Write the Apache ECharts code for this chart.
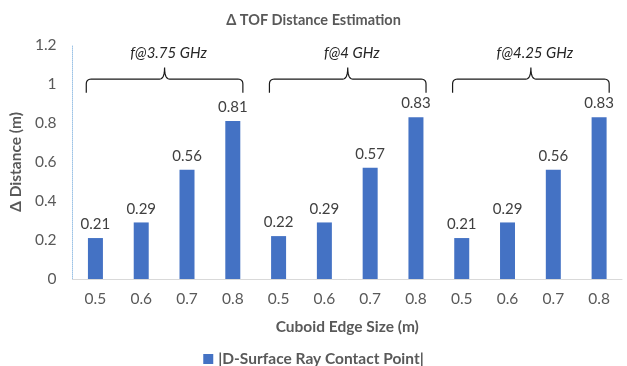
<!DOCTYPE html>
<html>
<head>
<meta charset="utf-8">
<script src="https://cdn.jsdelivr.net/npm/echarts@6/dist/echarts.min.js"></script>
<style>
  html, body { margin: 0; padding: 0; background: #fff; }
  #chart { width: 627px; height: 366px; }
</style>
</head>
<body>
<div id="chart"></div>
<script>
// Cuboid edge sizes, repeated for each carrier frequency
const categories = ['0.5', '0.6', '0.7', '0.8', '0.5', '0.6', '0.7', '0.8', '0.5', '0.6', '0.7', '0.8'];
// Distance error per frequency group (m)
const valuesF375 = [0.21, 0.29, 0.56, 0.81];
const valuesF400 = [0.22, 0.29, 0.57, 0.83];
const valuesF425 = [0.21, 0.29, 0.56, 0.83];
const seriesValues = valuesF375.concat(valuesF400, valuesF425);
// Frequency group labels and the category ranges they span
const groupLabels = ['f@3.75 GHz', 'f@4 GHz', 'f@4.25 GHz'];
const groupRanges = [[0, 3], [4, 7], [8, 11]];
const yTicks = [0, 0.2, 0.4, 0.6, 0.8, 1, 1.2];

const FONT = 'Lato, "Open Sans", sans-serif';
const GREY = '#595959';

const chart = echarts.init(document.getElementById('chart'), null, { renderer: 'canvas' });

chart.setOption({
  animation: false,
  title: {
    text: 'Δ TOF Distance Estimation',
    left: 'center',
    top: 8,
    textStyle: { fontFamily: FONT, fontSize: 14.5, fontWeight: 'bold', color: GREY }
  },
  grid: { left: 71, right: 5, top: 45, bottom: 87 },
  legend: {
    top: 346,
    left: 'center',
    itemWidth: 10,
    itemHeight: 10,
    itemGap: 6,
    icon: 'rect',
    textStyle: { fontFamily: FONT, fontSize: 15.5, fontWeight: 'bold', color: GREY }
  },
  xAxis: {
    type: 'category',
    data: categories,
    name: 'Cuboid Edge Size (m)',
    nameLocation: 'middle',
    nameGap: 40,
    nameTextStyle: { fontFamily: FONT, fontSize: 15.5, fontWeight: 'bold', color: GREY },
    axisLine: { lineStyle: { color: '#d9d9d9', width: 1 } },
    axisTick: { show: false },
    axisLabel: { fontFamily: FONT, fontSize: 15.5, color: GREY, margin: 12 }
  },
  yAxis: {
    type: 'value',
    min: 0,
    max: 1.2,
    interval: 0.2,
    name: 'Δ Distance (m)',
    nameLocation: 'middle',
    nameGap: 44,
    nameTextStyle: { fontFamily: FONT, fontSize: 15.5, fontWeight: 'bold', color: GREY },
    axisLine: { show: true, lineStyle: { color: '#9dc3e6', width: 1, type: 'dotted' } },
    axisTick: { show: false },
    splitLine: { show: false },
    axisLabel: {
      fontFamily: FONT, fontSize: 15.5, color: GREY, margin: 16,
      formatter: v => {
        const t = yTicks.find(t => Math.abs(t - v) < 1e-9);
        return String(t !== undefined ? t : v);
      }
    }
  },
  series: [{
    name: '|D-Surface Ray Contact Point|',
    type: 'bar',
    data: seriesValues,
    barWidth: 15,
    itemStyle: { color: '#4472C4' },
    label: {
      show: true,
      position: 'top',
      distance: 6,
      fontFamily: FONT,
      fontSize: 15,
      color: '#404040',
      formatter: p => p.value.toFixed(2)
    }
  }]
});

// Points along a quadratic curve, used for the rounded brace corners
function quad(p0, c, p1, n) {
  const pts = [];
  for (let i = 1; i <= n; i++) {
    const t = i / n, u = 1 - t;
    pts.push([u * u * p0[0] + 2 * u * t * c[0] + t * t * p1[0],
              u * u * p0[1] + 2 * u * t * c[1] + t * t * p1[1]]);
  }
  return pts;
}

// Curly braces above each frequency group, placed through the chart's scales
function drawBraces() {
  const px = (i, v) => chart.convertToPixel({ xAxisIndex: 0, yAxisIndex: 0 }, [i, v]);
  const band = px(1, 0)[0] - px(0, 0)[0];
  const yTop = px(0, 1.025)[1];
  const yEnd = px(0, 0.955)[1];
  const yTip = px(0, 1.085)[1];
  const yText = px(0, 1.16)[1];
  const r = 5;
  const graphics = [];
  groupRanges.forEach((rg, k) => {
    const x1 = px(rg[0], 0)[0] - band * 0.2;
    const x2 = px(rg[1], 0)[0] + band * 0.22;
    const xc = (x1 + x2) / 2;
    let pts = [[x1, yEnd], [x1, yTop + r]];
    pts = pts.concat(quad([x1, yTop + r], [x1, yTop], [x1 + r, yTop], 6));
    pts.push([xc - r, yTop]);
    pts = pts.concat(quad([xc - r, yTop], [xc, yTop], [xc, yTip], 6));
    pts = pts.concat(quad([xc, yTip], [xc, yTop], [xc + r, yTop], 6));
    pts.push([x2 - r, yTop]);
    pts = pts.concat(quad([x2 - r, yTop], [x2, yTop], [x2, yTop + r], 6));
    pts.push([x2, yEnd]);
    graphics.push({
      type: 'polyline',
      shape: { points: pts },
      style: { fill: null, stroke: '#1a1a1a', lineWidth: 1.2 },
      silent: true
    });
    graphics.push({
      type: 'text',
      x: xc + 4,
      y: yText,
      style: {
        text: groupLabels[k],
        font: 'italic 15px ' + FONT,
        fill: '#262626',
        align: 'center',
        verticalAlign: 'middle'
      },
      silent: true
    });
  });
  chart.setOption({ graphic: graphics });
}
drawBraces();
</script>
</body>
</html>
